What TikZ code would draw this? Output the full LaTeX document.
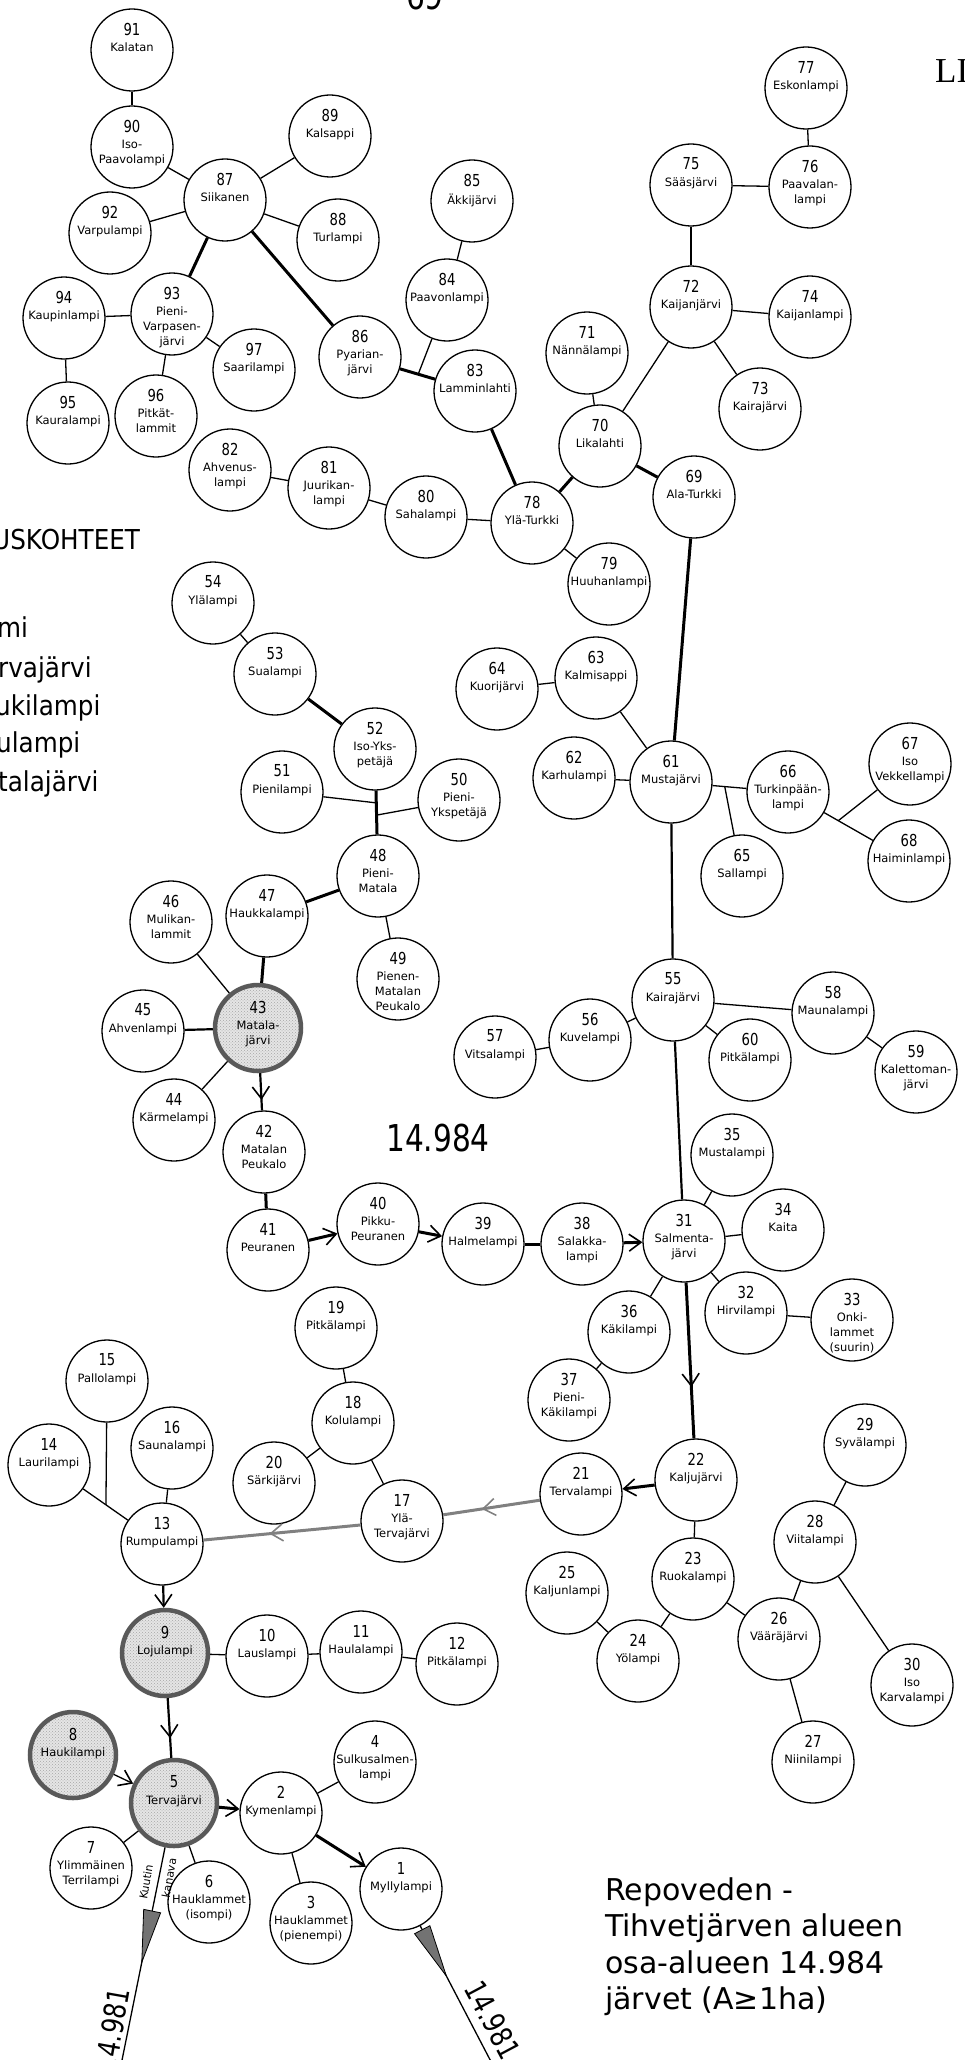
\documentclass[tikz,border=0pt]{standalone}
\usepackage{fontspec}
\setmainfont{DejaVu Sans}
\newfontfamily\lakenumfont[FakeStretch=0.8]{DejaVu Sans}
\newfontfamily\sidefont[FakeStretch=0.9]{DejaVu Sans}
\newfontfamily\serifhead{Liberation Serif}
\usetikzlibrary{arrows.meta,decorations.markings,patterns}

\begin{document}
\begin{tikzpicture}[
		x=1pt, y=-1pt,
		lake/.style={circle, draw=black, line width=1.3pt, minimum size=82pt, inner sep=0pt},
		shadedlake/.style={circle, draw=black!65, line width=4.5pt, minimum size=86pt, inner sep=0pt,
			preaction={fill=black!10}, pattern=crosshatch dots, pattern color=black!35},
		lakenum/.style={font=\lakenumfont\fontsize{16.5}{18}\selectfont, inner sep=0pt},
		lakename/.style={font=\fontsize{11.5}{15}\selectfont, align=center, anchor=north, inner sep=0pt},
		thinline/.style={line width=1.3pt},
		midline/.style={line width=2.2pt},
		thickline/.style={line width=3pt},
		grayflow/.style={color=black!50, line width=3pt},
		flow/.style={-{Straight Barb[length=12pt,width=17pt,line width=1.6pt]}},
		midflow/.style={postaction={decorate}, decoration={markings,
				mark=at position #1 with {\arrow{Straight Barb[length=12pt,width=17pt,line width=1.6pt]}}}},
		outflow/.style={postaction={decorate}, decoration={markings,
				mark=at position #1 with {\arrow{Triangle[length=55pt,width=18pt,fill=black!55,line width=0.8pt]}}}},
		canal/.style={font=\fontsize{11}{13}\selectfont, inner sep=0pt, rotate=80},
		outlabel/.style={font=\lakenumfont\fontsize{30}{32}\selectfont, inner sep=0pt},
		bigsans/.style={font=\lakenumfont\fontsize{37}{40}\selectfont, inner sep=0pt},
		sidetext/.style={font=\sidefont\fontsize{27.4}{30}\selectfont, anchor=base west, inner sep=0pt}
		]
		
		\useasboundingbox (0,0) rectangle (965,2060);
		
		% ---------------------------------------------------------
		% Lakes: number / x / y / name
		% ---------------------------------------------------------
		\foreach \n/\x/\y/\lbl in {
			1/401/1889/{Myllylampi}, 2/281/1813/{Kymenlampi}, 3/311/1923/{Hauklammet\\(pienempi)},
			4/375/1762/{Sulkusalmen-\\lampi}, 6/209/1902/{Hauklammet\\(isompi)}, 7/91/1868/{Ylimmäinen\\Terrilampi},
			10/267/1656/{Lauslampi}, 11/361/1652/{Haulalampi}, 12/457/1664/{Pitkälampi},
			13/162/1544/{Rumpulampi}, 14/49/1465/{Laurilampi}, 15/107/1381/{Pallolampi},
			16/172/1448/{Saunalampi}, 17/402/1521/{Ylä-\\Tervajärvi}, 18/353/1423/{Kolulampi},
			19/336/1328/{Pitkälampi}, 20/274/1483/{Särkijärvi}, 21/581/1494/{Tervalampi},
			22/696/1480/{Kaljujärvi}, 23/693/1579/{Ruokalampi}, 24/638/1661/{Yölampi},
			25/567/1593/{Kaljunlampi}, 26/779/1639/{Vääräjärvi}, 27/813/1762/{Niinilampi},
			28/815/1542/{Viitalampi}, 29/865/1445/{Syvälampi}, 30/912/1685/{Iso\\Karvalampi},
			31/684/1241/{Salmenta-\\järvi}, 32/746/1313/{Hirvilampi}, 33/852/1320/{Onki-\\lammet\\(suurin)},
			34/783/1230/{Kaita}, 35/732/1155/{Mustalampi}, 36/629/1332/{Käkilampi},
			37/569/1400/{Pieni-\\Käkilampi}, 38/582/1244/{Salakka-\\lampi}, 39/483/1244/{Halmelampi},
			40/378/1224/{Pikku-\\Peuranen}, 41/268/1250/{Peuranen}, 42/264/1152/{Matalan\\Peukalo},
			44/174/1120/{Kärmelampi}, 45/143/1031/{Ahvenlampi}, 46/171/922/{Mulikan-\\lammit},
			47/267/916/{Haukkalampi}, 48/378/876/{Pieni-\\Matala}, 49/398/979/{Pienen-\\Matalan\\Peukalo},
			50/459/800/{Pieni-\\Ykspetäjä}, 51/282/792/{Pienilampi}, 52/375/749/{Iso-Yks-\\petäjä},
			53/275/674/{Sualampi}, 54/213/603/{Ylälampi}, 55/673/1000/{Kairajärvi},
			56/590/1040/{Kuvelampi}, 57/495/1057/{Vitsalampi}, 58/833/1013/{Maunalampi},
			59/916/1072/{Kalettoman-\\järvi}, 60/750/1060/{Pitkälampi}, 61/671/782/{Mustajärvi},
			62/574/778/{Karhulampi}, 63/596/678/{Kalmisappi}, 64/497/689/{Kuorijärvi},
			65/742/876/{Sallampi}, 66/788/792/{Turkinpään-\\lampi}, 67/910/764/{Iso\\Vekkellampi},
			68/909/861/{Haiminlampi}, 69/694/497/{Ala-Turkki}, 70/600/446/{Likalahti},
			71/587/353/{Nännälampi}, 72/691/307/{Kaijanjärvi}, 73/760/409/{Kairajärvi},
			74/810/317/{Kaijanlampi}, 75/691/185/{Sääsjärvi}, 76/810/187/{Paavalan-\\lampi},
			77/806/88/{Eskonlampi}, 78/532/523/{Ylä-Turkki}, 79/609/584/{Huuhanlampi},
			80/426/517/{Sahalampi}, 81/329/488/{Juurikan-\\lampi}, 82/230/470/{Ahvenus-\\lampi},
			83/475/391/{Lamminlahti}, 84/447/300/{Paavonlampi}, 85/472/201/{Äkkijärvi},
			86/360/357/{Pyarian-\\järvi}, 87/225/200/{Siikanen}, 88/338/240/{Turlampi},
			89/330/136/{Kalsappi}, 90/132/147/{Iso-\\Paavolampi}, 91/132/50/{Kalatan},
			92/110/233/{Varpulampi}, 93/172/314/{Pieni-\\Varpasen-\\järvi}, 94/64/318/{Kaupinlampi},
			95/68/423/{Kauralampi}, 96/156/416/{Pitkät-\\lammit}, 97/254/370/{Saarilampi}} {
			\node[lake] (l\n) at (\x,\y) {};
			\node[lakenum] (n\n) at ([yshift=21pt]l\n.center) {\n};
			\node[lakename] (t\n) at ([yshift=7pt]l\n.center) {\lbl};
		}
		
		% Regulated lakes (shaded)
		\foreach \n/\x/\y/\lbl in {5/174/1803/{Tervajärvi}, 8/73/1755/{Haukilampi},
			9/165/1653/{Lojulampi}, 43/258/1028/{Matala-\\järvi}} {
			\node[shadedlake] (l\n) at (\x,\y) {};
			\node[lakenum] (n\n) at ([yshift=21pt]l\n.center) {\n};
			\node[lakename] (t\n) at ([yshift=7pt]l\n.center) {\lbl};
		}
		
		% ---------------------------------------------------------
		% Upper part: 69--97
		% ---------------------------------------------------------
		\draw[thinline] (l91) -- (l90);
		\draw[thinline] (l90) -- (l87);
		\draw[thinline] (l87) -- (l89);
		\draw[thinline] (l87) -- (l92);
		\draw[thinline] (l87) -- (l88);
		\draw[thickline] (l87) -- (l93);
		\draw[thinline] (l94) -- (l93);
		\draw[thinline] (l94) -- (l95);
		\draw[thinline] (l93) -- (l96);
		\draw[thinline] (l93) -- (l97);
		\draw[thickline] (l87) -- (l86);
		\draw[thickline] (l86) -- coordinate[pos=0.52] (j84) (l83);
		\draw[thinline] (l85) -- (l84);
		\draw[thinline] (l84) -- (j84);
		\draw[thickline] (l83) -- (l78);
		\draw[thinline] (l82) -- (l81);
		\draw[thinline] (l81) -- (l80);
		\draw[thinline] (l80) -- (l78);
		\draw[thinline] (l78) -- (l79);
		\draw[thickline] (l78) -- (l70);
		\draw[thinline] (l70) -- (l71);
		\draw[thinline] (l70) -- (l72);
		\draw[thickline] (l70) -- (l69);
		\draw[thinline] (l72) -- (l73);
		\draw[thinline] (l72) -- (l74);
		\draw[thinline] (l72) -- (l75);
		\draw[thinline] (l75) -- (l76);
		\draw[thinline] (l77) -- (l76);
		\draw[thickline] (l69) -- (l61);
		
		% ---------------------------------------------------------
		% Middle part: 43--68
		% ---------------------------------------------------------
		\draw[thinline] (l64) -- (l63);
		\draw[thinline] (l63) -- (l61);
		\draw[thinline] (l62) -- (l61);
		\draw[thinline] (l61) -- coordinate[pos=0.36] (j65) (l66);
		\draw[thinline] (j65) -- (l65);
		\draw[thinline] (l66) -- coordinate[pos=0.29] (j67) (l68);
		\draw[thinline] (j67) -- (l67);
		\draw[midline] (l61) -- (l55);
		\draw[thinline] (l55) -- (l58);
		\draw[thinline] (l58) -- (l59);
		\draw[thinline] (l55) -- (l56);
		\draw[thinline] (l56) -- (l57);
		\draw[thinline] (l55) -- (l60);
		\draw[midline] (l55) -- (l31);
		
		\draw[thinline] (l54) -- (l53);
		\draw[thickline] (l52) -- (l53);
		\draw[thickline] (l52) -- coordinate[pos=0.28] (j51) coordinate[pos=0.56] (j50) (l48);
		\draw[thinline] (l51) -- (j51);
		\draw[thinline] (l50) -- (j50);
		\draw[thinline] (l48) -- (l49);
		\draw[thickline] (l48) -- (l47);
		\draw[thickline] (l47) -- (l43);
		\draw[thinline] (l46) -- (l43);
		\draw[midline] (l45) -- (l43);
		\draw[thinline] (l44) -- (l43);
		
		% ---------------------------------------------------------
		% Main flow: 43 -> 42 -> ... -> 31 -> 22 -> 21 -> 17 -> 13
		% ---------------------------------------------------------
		\draw[midline, midflow=0.72] (l43) -- (l42);
		\draw[thickline] (l42) -- (l41);
		\draw[thickline, flow] (l41) -- (l40);
		\draw[thickline, flow] (l40) -- (l39);
		\draw[thickline] (l39) -- (l38);
		\draw[thickline, flow] (l38) -- (l31);
		\draw[thinline] (l35) -- (l31);
		\draw[thinline] (l31) -- (l34);
		\draw[thinline] (l31) -- (l32);
		\draw[thinline] (l32) -- (l33);
		\draw[thinline] (l31) -- (l36);
		\draw[thinline] (l36) -- (l37);
		\draw[thickline, midflow=0.67] (l31) -- (l22);
		\draw[thickline, flow] (l22) -- (l21);
		\draw[thinline] (l22) -- (l23);
		\draw[thinline] (l23) -- (l24);
		\draw[thinline] (l24) -- (l25);
		\draw[thinline] (l23) -- (l26);
		\draw[thinline] (l26) -- (l28);
		\draw[thinline] (l28) -- (l29);
		\draw[thinline] (l28) -- (l30);
		\draw[thinline] (l26) -- (l27);
		\draw[grayflow, midflow=0.6] (l21) -- (l17);
		\draw[grayflow, midflow=0.58] (l17) -- (l13);
		
		% ---------------------------------------------------------
		% Lower part: 1--20
		% ---------------------------------------------------------
		\draw[thinline] (l18) -- (l19);
		\draw[thinline] (l18) -- (l20);
		\draw[thinline] (l18) -- (l17);
		\draw[thinline] (l14) -- coordinate[pos=0.51] (j15) (l13);
		\draw[thinline] (l15) -- (j15);
		\draw[thinline] (l16) -- (l13);
		\draw[midline, flow] (l13) -- (l9);
		\draw[thinline] (l9) -- (l10);
		\draw[thinline] (l10) -- (l11);
		\draw[thinline] (l11) -- (l12);
		\draw[midline, midflow=0.67] (l9) -- (l5);
		\draw[thinline, flow] (l8) -- (l5);
		\draw[thickline, flow] (l5) -- (l2);
		\draw[thickline, flow] (l2) -- (l1);
		\draw[thinline] (l2) -- (l4);
		\draw[thinline] (l2) -- (l3);
		\draw[thinline] (l5) -- (l7);
		\draw[thinline] (l5) -- (l6);
		
		% Outflows to 14.981
		\coordinate (out5) at (119,2075);
		\coordinate (out1) at (498,2075);
		\draw[thinline, outflow=0.515] (l5) -- (out5);
		\draw[thinline, outflow=0.35] (l1) -- (out1);
		\node[canal] (kuutin) at (146,1882) {Kuutin};
		\node[canal] (kanava) at (169,1878) {kanava};
		\node[outlabel, rotate=80] (outleft) at (112,2030) {14.981};
		\node[outlabel, rotate=-62] (outright) at (493,2020) {14.981};
		
		% ---------------------------------------------------------
		% Texts
		% ---------------------------------------------------------
		\node[bigsans] (pagenum) at (425,-4) {69};
		\node[font=\serifhead\fontsize{35}{38}\selectfont, anchor=base west, inner sep=0pt] (appx) at (935,83) {LI};
		\node[bigsans] (subarea) at (438,1138) {14.984};
		\node[font=\fontsize{30}{36.5}\selectfont, align=left, anchor=north west, inner sep=0pt] (title) at (605,1877)
			{Repoveden -\\Tihvetjärven alueen\\osa-alueen 14.984\\järvet (A≥1ha)};
		
		\node[sidetext] (side1) at (-8,549) {USKOHTEET};
		\node[sidetext] (side2) at (-3,637) {mi};
		\node[sidetext] (side3) at (-2,677) {rvajärvi};
		\node[sidetext] (side4) at (-5,715) {ukilampi};
		\node[sidetext] (side5) at (-4,752) {ulampi};
		\node[sidetext] (side6) at (-2,791) {talajärvi};
		
	\end{tikzpicture}
\end{document}
